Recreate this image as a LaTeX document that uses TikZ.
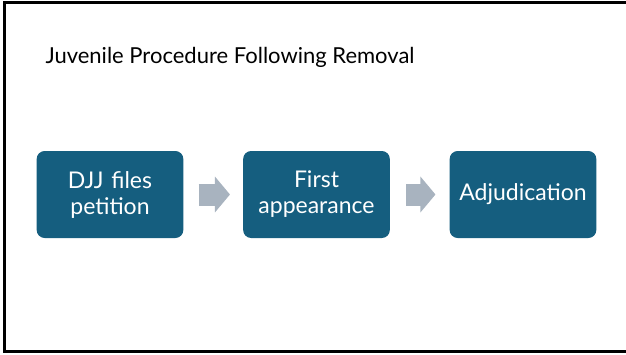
\documentclass[tikz,border=0pt]{standalone}
\usepackage{fontspec}
\setmainfont{Lato}
\usetikzlibrary{positioning,arrows.meta}

\definecolor{boxblue}{HTML}{155E7F}
\definecolor{arrowgray}{HTML}{A8B3BF}

\tikzstyle{stage}=[rectangle, rounded corners=8pt, minimum width=146pt, minimum height=87pt, text width=140pt, align=center, fill=boxblue, text=white, font=\fontsize{23}{26}\selectfont]
\tikzstyle{arrow}=[draw=arrowgray, line width=22pt, -{Triangle[width=35pt, length=15pt]}]

\begin{document}
\begin{tikzpicture}[x=1pt, y=-1pt, node distance=206.5pt]

\useasboundingbox (0,0) rectangle (626,354);
\draw[line width=3pt] (640,2.5) -- (4.5,2.5) -- (4.5,351.5) -- (640,351.5);

\node(title)[anchor=base west, font=\fontsize{22}{26}\selectfont] at (42,63) {Juvenile Procedure Following Removal};

\node(p0)[stage] at (110,194.5) {DJJ files\\petition};
\node(p1)[stage, right of=p0]{First\\appearance};
\node(p2)[stage, right of=p1]{Adjudication};

\draw[arrow, shorten <=15pt, shorten >=13pt](p0)--(p1);
\draw[arrow, shorten <=16pt, shorten >=14pt](p1)--(p2);

\end{tikzpicture}
\end{document}
